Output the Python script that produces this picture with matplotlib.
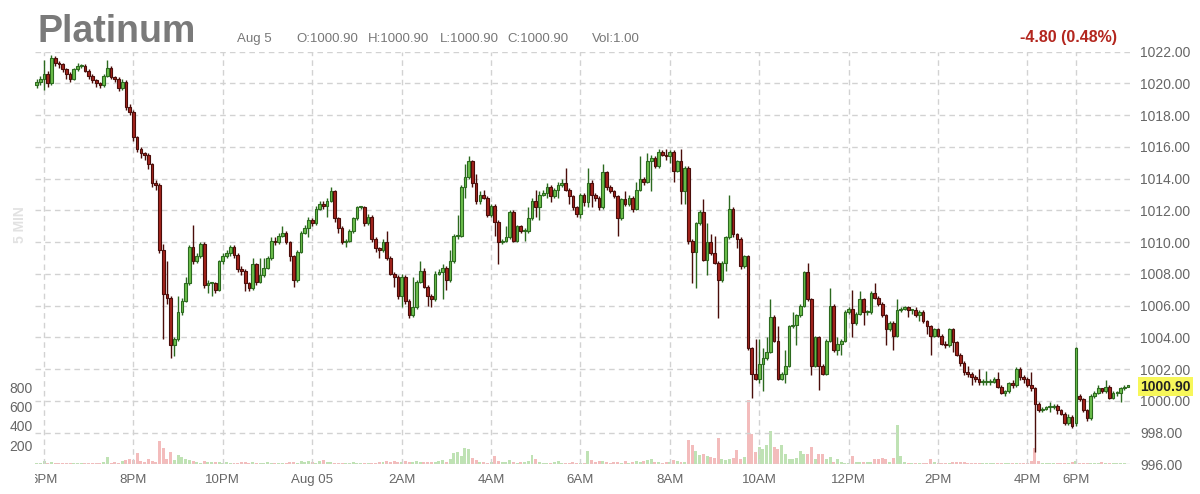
"""
plot.py - Platinum 5-minute candlestick chart with volume underlay.
"""

import numpy as np
import matplotlib
matplotlib.use('Agg')
import matplotlib.pyplot as plt
from matplotlib.transforms import Bbox, TransformedBbox


plt.rcParams.update({
    'font.family':       ['Liberation Sans', 'DejaVu Sans'],
    'figure.facecolor':  'white',
    'axes.facecolor':    'white',
    'savefig.facecolor': 'white',
})

# ── data (5-min bars) ────────────────────────────────────────────────────────
opens = [
    1019.9, 1020.1, 1020.3, 1020.6, 1020.0, 1021.6, 1021.3, 1021.2, 1020.9, 1020.6,
    1020.3, 1020.9, 1021.1, 1021.1, 1020.8, 1020.5, 1020.2, 1020.0, 1019.9, 1020.5,
    1021.0, 1020.4, 1020.3, 1019.7, 1020.1, 1018.5, 1018.2, 1016.6, 1015.9, 1015.6,
    1015.5, 1014.9, 1013.7, 1013.6, 1009.5, 1006.7, 1006.5, 1003.5, 1003.9, 1005.6,
    1006.3, 1007.4, 1009.7, 1008.8, 1009.1, 1009.9, 1007.3, 1007.4, 1007.4, 1007.0,
    1008.8, 1009.1, 1009.3, 1009.7, 1009.2, 1008.3, 1008.2, 1007.4, 1007.1, 1008.6,
    1007.5, 1007.9, 1008.4, 1009.0, 1010.1, 1010.0, 1010.4, 1010.6, 1010.0, 1009.1,
    1007.6, 1009.4, 1010.6, 1010.9, 1011.4, 1011.2, 1012.1, 1012.4, 1012.3, 1012.6,
    1013.2, 1011.5, 1010.9, 1010.0, 1010.1, 1010.7, 1011.5, 1012.2, 1012.2, 1011.2,
    1011.6, 1010.2, 1009.6, 1009.5, 1010.0, 1009.0, 1008.0, 1007.8, 1006.6, 1007.8,
    1006.3, 1005.4, 1005.9, 1007.5, 1008.2, 1007.2, 1006.6, 1006.4, 1008.0, 1008.1,
    1008.4, 1007.6, 1008.8, 1010.4, 1010.4, 1013.5, 1014.1, 1015.1, 1013.7, 1012.6,
    1013.0, 1012.8, 1011.7, 1012.3, 1011.3, 1010.0, 1010.1, 1010.3, 1011.9, 1010.1,
    1011.0, 1010.7, 1010.7, 1011.5, 1012.6, 1012.2, 1013.0, 1013.1, 1013.5, 1012.9,
    1013.3, 1013.6, 1013.7, 1013.3, 1012.9, 1012.2, 1011.8, 1013.0, 1012.5, 1013.7,
    1013.0, 1012.8, 1012.2, 1014.4, 1013.5, 1013.2, 1012.9, 1011.5, 1012.7, 1012.4,
    1012.8, 1012.1, 1013.3, 1014.0, 1013.8, 1015.1, 1015.3, 1014.8, 1015.7, 1015.5,
    1015.4, 1015.7, 1014.5, 1015.1, 1013.2, 1014.7, 1010.1, 1009.4, 1011.2, 1011.9,
    1008.9, 1010.0, 1009.3, 1008.7, 1007.6, 1008.7, 1010.3, 1012.1, 1010.5, 1010.2,
    1008.5, 1009.1, 1003.3, 1001.7, 1001.4, 1002.3, 1002.7, 1003.1, 1005.3, 1003.8,
    1001.4, 1001.7, 1002.2, 1004.7, 1004.8, 1005.4, 1006.0, 1008.1, 1006.4, 1002.2,
    1004.0, 1002.2, 1001.7, 1003.8, 1006.0, 1003.2, 1003.6, 1003.8, 1005.6, 1005.8,
    1004.9, 1005.5, 1006.4, 1005.6, 1005.6, 1006.8, 1006.5, 1006.1, 1005.4, 1004.5,
    1004.9, 1004.1, 1005.7, 1005.8, 1005.9, 1005.7, 1005.7, 1005.4, 1005.6, 1005.0,
    1004.7, 1004.1, 1004.5, 1004.1, 1003.6, 1003.5, 1004.5, 1003.7, 1002.9, 1002.4,
    1001.8, 1001.7, 1001.5, 1001.4, 1001.2, 1001.2, 1001.2, 1001.2, 1001.4, 1000.9,
    1000.5, 1000.6, 1001.1, 1001.0, 1002.0, 1001.5, 1001.4, 1001.0, 1000.8, 999.8,
    999.4, 999.5, 999.6, 999.6, 999.7, 999.4, 999.2, 998.6, 999.0, 998.6,
    1000.3, 1000.1, 999.4, 998.9, 1000.3, 1000.5, 1000.8, 1000.6, 1000.9, 1000.2,
    1000.5, 1000.5, 1000.8, 1000.9,
]
highs = [
    1020.3, 1020.5, 1021.5, 1020.8, 1021.8, 1021.7, 1021.4, 1021.3, 1021.0, 1020.7,
    1021.0, 1021.3, 1021.2, 1021.2, 1020.9, 1020.6, 1020.3, 1020.1, 1020.6, 1021.5,
    1021.1, 1020.5, 1020.4, 1020.3, 1020.2, 1018.7, 1018.3, 1016.7, 1016.0, 1015.7,
    1015.6, 1015.0, 1013.9, 1013.7, 1009.9, 1008.8, 1006.6, 1004.0, 1006.6, 1006.5,
    1007.8, 1009.8, 1011.1, 1009.3, 1010.0, 1010.0, 1007.6, 1007.5, 1007.5, 1008.9,
    1009.3, 1009.5, 1009.8, 1009.8, 1009.3, 1008.5, 1008.3, 1007.5, 1009.0, 1008.7,
    1009.0, 1009.0, 1009.1, 1010.3, 1010.3, 1010.6, 1011.0, 1010.7, 1010.1, 1009.2,
    1009.5, 1010.7, 1011.1, 1011.6, 1011.5, 1012.3, 1012.6, 1012.6, 1012.8, 1013.5,
    1013.3, 1011.6, 1011.0, 1010.2, 1010.8, 1011.6, 1012.3, 1012.3, 1012.3, 1011.8,
    1011.7, 1010.3, 1009.7, 1010.2, 1010.7, 1009.1, 1008.1, 1007.9, 1008.0, 1007.9,
    1006.4, 1007.8, 1007.6, 1008.8, 1008.4, 1007.3, 1006.7, 1008.2, 1008.3, 1008.6,
    1008.5, 1009.5, 1010.5, 1011.7, 1013.6, 1014.9, 1015.4, 1015.2, 1014.3, 1013.2,
    1013.3, 1012.9, 1012.4, 1012.4, 1011.4, 1010.2, 1011.0, 1012.0, 1012.0, 1011.1,
    1011.1, 1010.9, 1012.2, 1012.8, 1013.3, 1013.2, 1013.3, 1013.7, 1013.6, 1013.4,
    1013.8, 1014.0, 1014.7, 1013.4, 1013.0, 1012.3, 1013.1, 1013.1, 1014.7, 1013.9,
    1013.1, 1012.9, 1014.9, 1014.5, 1013.6, 1013.3, 1013.0, 1012.8, 1013.2, 1013.0,
    1012.9, 1013.8, 1015.4, 1014.1, 1015.6, 1015.5, 1015.4, 1015.9, 1015.8, 1015.9,
    1015.8, 1015.8, 1015.2, 1015.9, 1014.8, 1014.8, 1010.2, 1011.3, 1012.0, 1012.7,
    1011.2, 1010.5, 1010.4, 1008.8, 1008.8, 1010.4, 1013.0, 1012.2, 1010.6, 1010.3,
    1009.2, 1009.2, 1003.4, 1003.9, 1003.9, 1003.3, 1004.0, 1006.4, 1005.4, 1004.7,
    1001.8, 1003.2, 1004.8, 1005.6, 1005.5, 1006.1, 1008.2, 1008.7, 1006.5, 1004.1,
    1004.1, 1002.3, 1003.9, 1007.1, 1006.1, 1004.0, 1003.9, 1005.7, 1005.9, 1007.0,
    1005.6, 1006.9, 1006.5, 1005.7, 1006.9, 1007.4, 1006.6, 1006.2, 1005.5, 1005.0,
    1005.0, 1006.4, 1005.9, 1006.0, 1006.0, 1005.8, 1005.9, 1005.7, 1005.7, 1005.1,
    1004.8, 1004.6, 1004.6, 1004.2, 1003.8, 1004.6, 1004.6, 1003.8, 1003.0, 1002.5,
    1002.2, 1001.8, 1001.6, 1002.0, 1001.4, 1001.9, 1001.4, 1001.5, 1001.8, 1001.0,
    1000.7, 1001.2, 1001.3, 1002.1, 1002.1, 1001.6, 1001.5, 1001.8, 1000.9, 999.9,
    999.6, 999.7, 999.9, 999.8, 999.8, 999.5, 999.3, 999.2, 999.1, 1003.4,
    1000.4, 1000.2, 999.5, 1000.4, 1000.6, 1001.0, 1000.8, 1001.3, 1001.0, 1000.6,
    1000.6, 1000.9, 1001.0, 1000.9,
]
lows = [
    1019.7, 1019.9, 1019.6, 1019.8, 1019.9, 1021.1, 1021.0, 1020.7, 1020.3, 1020.1,
    1020.2, 1020.8, 1021.0, 1020.7, 1020.3, 1020.0, 1019.8, 1019.7, 1019.8, 1020.4,
    1020.3, 1020.1, 1019.5, 1019.6, 1018.3, 1018.0, 1016.4, 1015.7, 1015.3, 1015.2,
    1014.6, 1013.5, 1013.3, 1009.3, 1003.9, 1006.1, 1002.7, 1002.8, 1003.8, 1005.4,
    1006.2, 1007.3, 1008.6, 1008.7, 1009.0, 1007.1, 1006.8, 1006.6, 1006.8, 1006.9,
    1008.6, 1009.0, 1009.1, 1009.0, 1008.1, 1007.9, 1006.9, 1006.9, 1007.0, 1007.3,
    1007.4, 1007.8, 1008.3, 1008.9, 1009.8, 1009.9, 1010.3, 1009.9, 1008.8, 1007.2,
    1007.5, 1009.3, 1010.5, 1010.3, 1011.0, 1011.1, 1012.0, 1012.1, 1011.6, 1012.5,
    1011.3, 1010.6, 1009.9, 1009.7, 1010.0, 1010.6, 1011.4, 1012.1, 1011.0, 1011.1,
    1010.0, 1009.4, 1009.0, 1009.4, 1008.9, 1007.9, 1007.2, 1006.4, 1005.9, 1006.1,
    1005.2, 1005.3, 1005.8, 1007.4, 1007.1, 1006.0, 1005.9, 1006.3, 1007.9, 1006.4,
    1007.0, 1007.5, 1008.7, 1010.2, 1010.3, 1012.8, 1014.0, 1013.5, 1012.4, 1012.4,
    1012.7, 1011.6, 1011.6, 1010.4, 1008.6, 1009.9, 1010.0, 1010.2, 1010.0, 1010.0,
    1010.6, 1010.1, 1010.6, 1011.4, 1011.6, 1011.4, 1012.9, 1012.8, 1012.5, 1012.8,
    1012.8, 1013.5, 1013.2, 1012.4, 1012.0, 1011.6, 1011.5, 1012.3, 1012.2, 1012.2,
    1012.6, 1012.0, 1012.1, 1013.3, 1013.1, 1012.8, 1010.4, 1011.4, 1012.3, 1012.3,
    1011.9, 1012.0, 1013.2, 1013.6, 1013.7, 1013.2, 1014.7, 1014.7, 1015.4, 1015.2,
    1015.0, 1013.8, 1014.4, 1012.4, 1012.4, 1009.9, 1007.4, 1007.1, 1011.1, 1008.8,
    1007.9, 1009.2, 1008.6, 1005.2, 1007.5, 1008.2, 1010.2, 1010.3, 1009.6, 1008.3,
    1008.4, 1003.2, 1000.2, 1001.3, 1001.1, 1000.6, 1002.6, 1003.0, 1003.7, 1001.3,
    1001.3, 1001.1, 1002.1, 1004.6, 1003.5, 1005.3, 1005.9, 1006.3, 1001.6, 1002.1,
    1000.7, 1001.6, 1001.6, 1003.7, 1003.1, 1002.9, 1002.9, 1003.7, 1005.5, 1004.0,
    1004.8, 1005.4, 1004.8, 1005.4, 1005.5, 1006.4, 1006.0, 1005.3, 1003.5, 1004.4,
    1003.2, 1004.0, 1005.6, 1005.7, 1005.3, 1005.5, 1005.3, 1005.0, 1004.9, 1004.2,
    1002.9, 1004.0, 1004.0, 1003.5, 1003.3, 1003.4, 1003.1, 1002.8, 1002.2, 1001.6,
    1001.5, 1001.0, 1001.2, 1001.0, 1001.0, 1001.0, 1001.0, 1001.1, 1000.8, 1000.4,
    1000.3, 1000.5, 1000.8, 1000.9, 1001.3, 1001.1, 1000.9, 1000.6, 996.8, 999.3,
    999.3, 999.4, 999.3, 999.5, 999.2, 999.1, 998.5, 998.5, 998.3, 998.4,
    1000.0, 999.3, 998.7, 998.8, 1000.2, 1000.4, 1000.5, 1000.5, 1000.1, 1000.1,
    1000.3, 999.9, 1000.7, 1000.9,
]
closes = [
    1020.1, 1020.3, 1020.6, 1020.0, 1021.6, 1021.3, 1021.2, 1020.9, 1020.6, 1020.3,
    1020.9, 1021.1, 1021.1, 1020.8, 1020.5, 1020.2, 1020.0, 1019.9, 1020.5, 1021.0,
    1020.4, 1020.3, 1019.7, 1020.1, 1018.5, 1018.2, 1016.6, 1015.9, 1015.6, 1015.5,
    1014.9, 1013.7, 1013.6, 1009.5, 1006.7, 1006.5, 1003.5, 1003.9, 1005.6, 1006.3,
    1007.4, 1009.7, 1008.8, 1009.1, 1009.9, 1007.3, 1007.4, 1007.4, 1007.0, 1008.8,
    1009.1, 1009.3, 1009.7, 1009.2, 1008.3, 1008.2, 1007.4, 1007.1, 1008.6, 1007.5,
    1007.9, 1008.4, 1009.0, 1010.1, 1010.0, 1010.4, 1010.6, 1010.0, 1009.1, 1007.6,
    1009.4, 1010.6, 1010.9, 1011.4, 1011.2, 1012.1, 1012.4, 1012.3, 1012.6, 1013.2,
    1011.5, 1010.9, 1010.0, 1010.1, 1010.7, 1011.5, 1012.2, 1012.2, 1011.2, 1011.6,
    1010.2, 1009.6, 1009.5, 1010.0, 1009.0, 1008.0, 1007.8, 1006.6, 1007.8, 1006.3,
    1005.4, 1005.9, 1007.5, 1008.2, 1007.2, 1006.6, 1006.4, 1008.0, 1008.1, 1008.4,
    1007.6, 1008.8, 1010.4, 1010.4, 1013.5, 1014.1, 1015.1, 1013.7, 1012.6, 1013.0,
    1012.8, 1011.7, 1012.3, 1011.3, 1010.0, 1010.1, 1010.3, 1011.9, 1010.1, 1011.0,
    1010.7, 1010.7, 1011.5, 1012.6, 1012.2, 1013.0, 1013.1, 1013.5, 1012.9, 1013.3,
    1013.6, 1013.7, 1013.3, 1012.9, 1012.2, 1011.8, 1013.0, 1012.5, 1013.7, 1013.0,
    1012.8, 1012.2, 1014.4, 1013.5, 1013.2, 1012.9, 1011.5, 1012.7, 1012.4, 1012.8,
    1012.1, 1013.3, 1014.0, 1013.8, 1015.1, 1015.3, 1014.8, 1015.7, 1015.5, 1015.4,
    1015.7, 1014.5, 1015.1, 1013.2, 1014.7, 1010.1, 1009.4, 1011.2, 1011.9, 1008.9,
    1010.0, 1009.3, 1008.7, 1007.6, 1008.7, 1010.3, 1012.1, 1010.5, 1010.2, 1008.5,
    1009.1, 1003.3, 1001.7, 1001.4, 1002.3, 1002.7, 1003.1, 1005.3, 1003.8, 1001.4,
    1001.7, 1002.2, 1004.7, 1004.8, 1005.4, 1006.0, 1008.1, 1006.4, 1002.2, 1004.0,
    1002.2, 1001.7, 1003.8, 1006.0, 1003.2, 1003.6, 1003.8, 1005.6, 1005.8, 1004.9,
    1005.5, 1006.4, 1005.6, 1005.6, 1006.8, 1006.5, 1006.1, 1005.4, 1004.5, 1004.9,
    1004.1, 1005.7, 1005.8, 1005.9, 1005.7, 1005.7, 1005.4, 1005.6, 1005.0, 1004.7,
    1004.1, 1004.5, 1004.1, 1003.6, 1003.5, 1004.5, 1003.7, 1002.9, 1002.4, 1001.8,
    1001.7, 1001.5, 1001.4, 1001.2, 1001.2, 1001.2, 1001.2, 1001.4, 1000.9, 1000.5,
    1000.6, 1001.1, 1001.0, 1002.0, 1001.5, 1001.4, 1001.0, 1000.8, 999.8, 999.4,
    999.5, 999.6, 999.6, 999.7, 999.4, 999.2, 998.6, 999.0, 998.4, 1003.3,
    1000.1, 999.4, 998.9, 1000.3, 1000.5, 1000.8, 1000.6, 1000.9, 1000.2, 1000.5,
    1000.5, 1000.8, 1000.9, 1000.9,
]
volumes = [
    15, 10, 30, 10, 20, 10, 10, 15, 10, 10, 15, 10, 10, 10, 10, 10, 15, 10, 20, 80,
    15, 20, 15, 30, 45, 60, 40, 115, 30, 20, 60, 35, 20, 245, 165, 60, 130, 40, 95, 75,
    55, 45, 30, 20, 15, 30, 20, 25, 20, 25, 15, 20, 15, 10, 15, 20, 25, 15, 20, 10,
    15, 10, 20, 15, 10, 15, 10, 10, 20, 25, 15, 30, 25, 30, 20, 15, 30, 40, 25, 20,
    15, 10, 15, 10, 15, 20, 10, 15, 10, 10, 10, 15, 20, 25, 30, 25, 30, 20, 25, 30,
    20, 25, 30, 20, 25, 25, 25, 20, 30, 40, 25, 60, 120, 130, 90, 170, 160, 70, 40, 20,
    20, 15, 20, 85, 30, 20, 25, 45, 20, 15, 20, 25, 30, 95, 60, 20, 15, 10, 15, 20,
    30, 15, 10, 15, 20, 15, 10, 15, 140, 40, 20, 30, 35, 20, 15, 20, 25, 15, 30, 15,
    20, 30, 25, 35, 40, 55, 25, 20, 15, 20, 25, 40, 30, 20, 25, 250, 200, 140, 100, 110,
    90, 80, 70, 270, 60, 40, 60, 70, 150, 60, 75, 670, 320, 130, 180, 160, 200, 350, 180, 160,
    200, 110, 60, 55, 70, 140, 110, 110, 180, 55, 110, 110, 60, 80, 25, 55, 25, 15, 15, 90,
    25, 25, 25, 20, 25, 55, 55, 70, 55, 25, 70, 410, 90, 20, 15, 10, 15, 10, 10, 10,
    60, 20, 15, 15, 10, 10, 20, 25, 25, 20, 15, 10, 10, 10, 10, 15, 10, 10, 15, 10,
    10, 10, 10, 15, 10, 10, 10, 30, 165, 30, 15, 10, 10, 10, 15, 10, 10, 15, 20, 30,
    10, 10, 10, 10, 15, 10, 20, 10, 10, 10, 10, 10, 10, 1,
]

time_ticks = [2, 26, 50, 74, 98, 122, 146, 170, 194, 218, 242, 266, 279]
time_labels = ['6PM', '8PM', '10PM', 'Aug 05', '2AM', '4AM', '6AM', '8AM',
               '10AM', '12PM', '2PM', '4PM', '6PM']
price_ticks = [996, 998, 1000, 1002, 1004, 1006, 1008, 1010, 1012, 1014,
               1016, 1018, 1020, 1022]
vol_ticks = [200, 400, 600, 800]

# ── colours ──────────────────────────────────────────────────────────────────
GREEN, GREEN_EDGE = '#6cbf4c', '#2c6a1f'
RED, RED_EDGE = '#a3241c', '#4a0d0a'
VOL_GREEN, VOL_RED = '#bfe2b4', '#f3bcbc'
GRID = '#d2d2d2'
LABEL = '#666666'

W, H = 1200, 494
fig = plt.figure(figsize=(W / 100, H / 100), dpi=100)
ax = fig.add_axes([34.7 / W, 1 - 464.3 / H, (1131 - 34.7) / W, (464.3 - 51.7) / H])
vax = ax.twinx()
vax.set_zorder(0)
ax.set_zorder(1)
ax.patch.set_visible(False)

o = np.array(opens)
hi = np.array(highs)
lo = np.array(lows)
c = np.array(closes)
x = np.arange(len(c))
up = c >= o

# ── volume underlay ──────────────────────────────────────────────────────────
vax.bar(x, volumes, width=0.8, color=np.where(up, VOL_GREEN, VOL_RED), linewidth=0)
vax.set_ylim(0, 4300)
vax.set_yticks(vol_ticks)
vax.yaxis.tick_left()
vax.tick_params(axis='y', length=0, pad=1.5, labelsize=10, labelcolor=LABEL)

# ── candles ──────────────────────────────────────────────────────────────────
body_lo = np.minimum(o, c)
body_h = np.maximum(np.abs(c - o), 0.07)
for mask, fill, edge in [(up, GREEN, GREEN_EDGE), (~up, RED, RED_EDGE)]:
    ax.vlines(x[mask], lo[mask], hi[mask], color=edge, linewidth=1.0, zorder=3)
    ax.bar(x[mask], body_h[mask], bottom=body_lo[mask], width=0.72,
           color=fill, edgecolor=edge, linewidth=0.8, zorder=4)

ax.set_xlim(-0.5, 293.8)
ax.set_ylim(996, 1022)
ax.set_yticks(price_ticks)
ax.set_yticklabels([f'{p:.2f}' for p in price_ticks])
ax.yaxis.tick_right()
ax.tick_params(axis='y', length=0, pad=6.5, labelsize=10, labelcolor=LABEL)
ax.set_xticks(time_ticks)
xlabels = ax.set_xticklabels(time_labels)
ax.tick_params(axis='x', length=0, pad=7, labelsize=9.5, labelcolor=LABEL)
ax.grid(True, color=GRID, linestyle=(0, (4, 3)), linewidth=1.0, zorder=0)

for a in (ax, vax):
    for s in a.spines.values():
        s.set_visible(False)

# first time label is cut off at the chart's left edge
clip = TransformedBbox(Bbox.from_extents(35 / W, 0, 1, 1), fig.transFigure)
xlabels[0].set_clip_box(clip)
xlabels[0].set_clip_on(True)

# last price marker
ax.annotate(f'{c[-1]:.2f}', xy=(1, c[-1]), xycoords=('axes fraction', 'data'),
            xytext=(6.5, 0), textcoords='offset points', va='center', ha='left',
            fontsize=10, fontweight='bold', color='#222222', zorder=6,
            bbox=dict(boxstyle='square,pad=0.15', fc='#f7f75a', ec='none'))

# ── header ───────────────────────────────────────────────────────────────────
base = 1 - 42 / H
fig.text(37 / W, base, 'Platinum', fontsize=27, fontweight='bold', color='#7a7a7a')
fig.text(237 / W, base, 'Aug 5', fontsize=9.5, color='#777777')
for txt, px in [(f'O:{o[-1]:.2f}', 296), (f'H:{hi[-1]:.2f}', 368),
                (f'L:{lo[-1]:.2f}', 440), (f'C:{c[-1]:.2f}', 507),
                (f'Vol:{volumes[-1]:.2f}', 592)]:
    fig.text(px / W, base, txt, fontsize=9.5, color='#777777')
fig.text(1117 / W, base, '-4.80 (0.48%)', ha='right', fontsize=11.5,
         fontweight='bold', color='#b3261e')
fig.text(20 / W, 1 - 225 / H, '5 MIN', rotation=90, ha='center', va='center',
         fontsize=10, fontweight='bold', color='#e2e2e2')

fig.savefig('out.png', dpi=100)
